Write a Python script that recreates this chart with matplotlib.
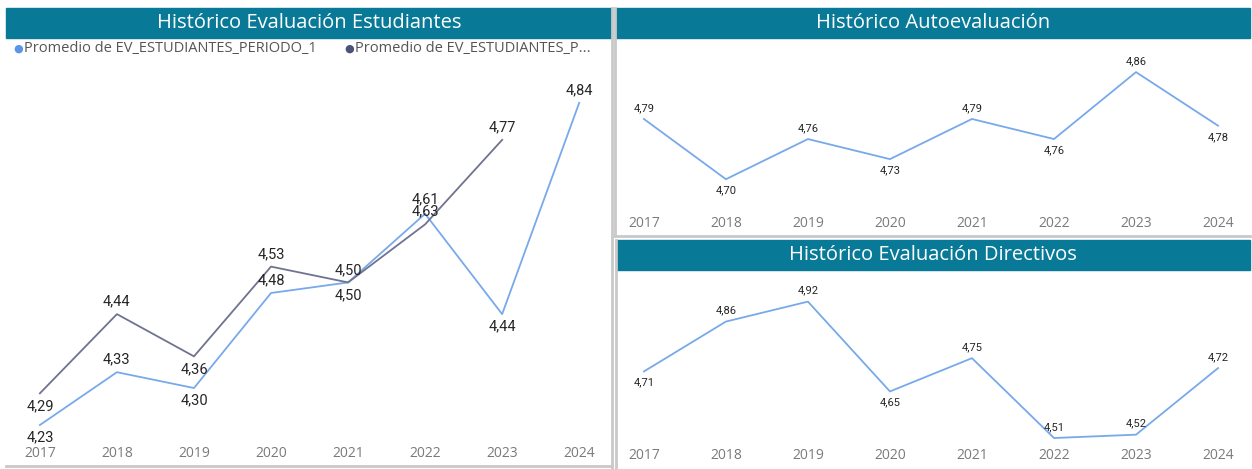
import matplotlib
matplotlib.use("Agg")
import matplotlib.pyplot as plt
from matplotlib.patches import Rectangle
from matplotlib.lines import Line2D

W, H = 1252, 469

YEARS = ["2017", "2018", "2019", "2020", "2021", "2022", "2023", "2024"]

# Histórico Evaluación Estudiantes
EST_P1 = [4.23, 4.33, 4.30, 4.48, 4.50, 4.63, 4.44, 4.84]
EST_P2 = [4.29, 4.44, 4.36, 4.53, 4.50, 4.61, 4.77]
EST_P1_POS = ["below", "above", "below", "above", "below", "near", "below", "above"]
EST_P2_POS = ["below", "above", "below", "above", "above", "high", "above"]

# Histórico Autoevaluación
AUTO = [4.79, 4.70, 4.76, 4.73, 4.79, 4.76, 4.86, 4.78]
AUTO_POS = ["above", "below", "above", "below", "above", "below", "above", "below"]

# Histórico Evaluación Directivos
DIR = [4.71, 4.86, 4.92, 4.65, 4.75, 4.51, 4.52, 4.72]
DIR_POS = ["below", "above", "above", "below", "above", "above", "above", "above"]

LEGEND = ["Promedio de EV_ESTUDIANTES_PERIODO_1", "Promedio de EV_ESTUDIANTES_P..."]

TEAL = "#087A98"
BLUE = "#78A9EA"
DARK = "#6F7390"
BORDER = "#C9C9C9"
TICK = "#7A7A7A"
TITLE_FONT = ["Open Sans", "DejaVu Sans"]
LABEL_FONT = ["Liberation Sans Narrow", "Roboto", "DejaVu Sans"]
# label offset factor by placement keyword
OFFSET = {"above": 1.0, "below": -1.0, "near": 0.2, "high": 2.0}

fig = plt.figure(figsize=(W / 100, H / 100), dpi=100)
fig.patch.set_facecolor("white")


def px_axes(x0, y0, x1, y1):
    # pixel box (top-left origin) -> figure axes
    return fig.add_axes([x0 / W, 1 - y1 / H, (x1 - x0) / W, (y1 - y0) / H])


def fig_rect(x0, y0, x1, y1, color):
    fig.patches.append(Rectangle((x0 / W, 1 - y1 / H), (x1 - x0) / W, (y1 - y0) / H,
                                 transform=fig.transFigure, color=color, zorder=0))


def fig_line(xs, ys, color=BORDER, lw=2):
    fig.lines.append(Line2D([x / W for x in xs], [1 - y / H for y in ys],
                            transform=fig.transFigure, color=color, linewidth=lw))


def title_bar(x0, y0, x1, y1, text):
    fig_rect(x0, y0, x1, y1, TEAL)
    fig.text((x0 + x1) / 2 / W, 1 - (y0 + y1) / 2 / H, text, color="white",
             fontsize=14.5, ha="center", va="center", family=TITLE_FONT)


def line_panel(ax, series, ylim, xpad, lab_size, off):
    ax.set_facecolor("none")
    for vals, color, pos in series:
        xs = list(range(len(vals)))
        ax.plot(xs, vals, color=color, linewidth=1.3)
        for x, v, p in zip(xs, vals, pos):
            ax.annotate(f"{v:.2f}".replace(".", ","), (x, v), xytext=(0, off * OFFSET[p]),
                        textcoords="offset points", ha="center", va="center",
                        fontsize=lab_size, color="#252525", family=LABEL_FONT)
    ax.set_xlim(-xpad[0], len(YEARS) - 1 + xpad[1])
    ax.set_ylim(*ylim)
    ax.set_xticks(range(len(YEARS)))
    ax.set_xticklabels(YEARS, color=TICK, fontsize=10, family=TITLE_FONT)
    ax.tick_params(axis="x", length=0, pad=4)
    ax.set_yticks([])
    for s in ax.spines.values():
        s.set_visible(False)


# --- left panel ---
title_bar(6, 8, 612, 38, "Histórico Evaluación Estudiantes")
fig.text(13 / W, 1 - 49 / H, "●", color="#5B95E8", fontsize=8, va="center")
fig.text(24 / W, 1 - 49 / H, LEGEND[0], color="#555555", fontsize=10.5, va="center", family=TITLE_FONT)
fig.text(344 / W, 1 - 49 / H, "●", color="#4A5378", fontsize=8, va="center")
fig.text(355 / W, 1 - 49 / H, LEGEND[1], color="#555555", fontsize=10.5, va="center", family=TITLE_FONT)

ax1 = px_axes(8, 80, 610, 440)
line_panel(ax1, [(EST_P1, BLUE, EST_P1_POS), (EST_P2, DARK, EST_P2_POS)],
           (4.2016, 4.8834), (0.414, 0.40), 10.5, 9)

fig_line([612, 612], [8, 469])
fig_line([6, 612], [466, 466])

# --- top-right panel ---
title_bar(616, 8, 1250, 38, "Histórico Autoevaluación")
ax2 = px_axes(616, 42, 1250, 210)
line_panel(ax2, [(AUTO, BLUE, AUTO_POS)], (4.654, 4.905), (0.34, 0.39), 8, 8)
fig_line([615, 615], [8, 236])
fig_line([615, 1250], [236, 236])

# --- bottom-right panel ---
title_bar(616, 240, 1250, 270, "Histórico Evaluación Directivos")
ax3 = px_axes(616, 275, 1250, 442)
line_panel(ax3, [(DIR, BLUE, DIR_POS)], (4.498, 5.0), (0.34, 0.39), 8, 8)
fig_line([616, 616], [240, 469])

fig.savefig("out.png", dpi=100, facecolor="white")
